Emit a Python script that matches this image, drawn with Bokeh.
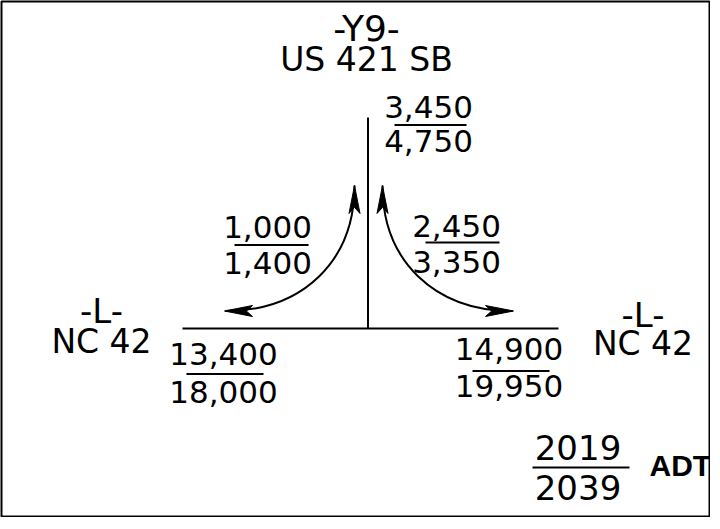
import numpy as np
from bokeh.plotting import figure
from bokeh.models import Range1d, ColumnDataSource
from bokeh.core.properties import value
from bokeh.embed import file_html
from bokeh.resources import INLINE

# ---------------- data ----------------
years = ["2019", "2039"]
unit_label = "ADT"
road_ids = ["-Y9-", "-L-", "-L-"]
road_routes = ["US 421 SB", "NC 42", "NC 42"]
movements = ["Y9 approach", "L west", "L east", "SB left turn", "SB right turn"]
adt_2019 = [3450, 13400, 14900, 1000, 2450]
adt_2039 = [4750, 18000, 19950, 1400, 3350]

# ---------------- layout (page pixel coordinates) ----------------
W, H = 710, 517
FONT = "DejaVu Sans"
# movement label centres (x), vertical centres of upper/lower numbers, fraction-line spans
mv_x = [436, 231, 516.5, 275, 464]
mv_mid_top = [114, 361.5, 356.5, 234.8, 233.2]
mv_mid_bot = [148.7, 399, 393.2, 270.7, 269]
mv_line_y = [132.5, 381.5, 378.5, 252.5, 250]
mv_line_x0 = [402, 194, 480, 242, 433]
mv_line_x1 = [474, 271, 557, 316, 507]

road_x = [374, 109, 650.5]
road_id_mid = [36, 318, 322]
road_route_mid = [66.5, 349, 351]
road_id_size = ["36px", "34px", "34px"]

p = figure(width=W, height=H, output_backend="svg", toolbar_location=None,
           x_range=Range1d(9, 9 + W - 2), y_range=Range1d(8 + H - 1, 9),
           x_axis_type=None, y_axis_type=None, min_border=1,
           background_fill_color="white", border_fill_color="white",
           outline_line_color="black", outline_line_width=2)
p.grid.visible = False

# roads
p.segment(x0=[190, 375.5], y0=[336, 125], x1=[566, 375.5], y1=[336, 336],
          line_color="black", line_width=2)

# turning movement curves (quarter ellipses as cubic beziers)
k = 0.6
def curve(tip_h, tip_v):
    (xh, yh), (xv, yv) = tip_h, tip_v
    return dict(x0=xh, y0=yh, x1=xv, y1=yv,
                cx0=xh + k * (xv - xh), cy0=yh,
                cx1=xv, cy1=yv + k * (yh - yv))

c1 = curve((233, 318.5), (362, 193))
c2 = curve((520, 318.5), (390, 193))
src_c = ColumnDataSource({key: [c1[key], c2[key]] for key in c1})
p.bezier(x0="x0", y0="y0", x1="x1", y1="y1", cx0="cx0", cy0="cy0",
         cx1="cx1", cy1="cy1", source=src_c, line_color="black", line_width=2)

# arrow heads (stealth style)
def head(tx, ty, dx, dy, L=28, hw=5.5, notch=0.78):
    nx, ny = -dy, dx
    bx, by = tx - dx * L, ty - dy * L
    mx, my = tx - dx * L * notch, ty - dy * L * notch
    return ([tx, bx + nx * hw, mx, bx - nx * hw],
            [ty, by + ny * hw, my, by - ny * hw])

heads = [head(232, 318.5, -1, 0), head(362, 193, 0, -1),
         head(390, 193, 0, -1), head(521, 318.5, 1, 0)]
p.patches(xs=[h[0] for h in heads], ys=[h[1] for h in heads],
          fill_color="black", line_color="black", line_width=1)

# volumes
fmt = lambda v: f"{v:,}"
src_top = ColumnDataSource(dict(x=mv_x, y=mv_mid_top, t=[fmt(v) for v in adt_2019]))
src_bot = ColumnDataSource(dict(x=mv_x, y=mv_mid_bot, t=[fmt(v) for v in adt_2039]))
for s in (src_top, src_bot):
    p.text(x="x", y="y", text="t", source=s, text_font=value(FONT),
           text_font_size=value("31px"), text_align="center",
           text_baseline="middle", text_color="black")
p.segment(x0=mv_line_x0, y0=mv_line_y, x1=mv_line_x1, y1=mv_line_y,
          line_color="black", line_width=2)

# road names
src_id = ColumnDataSource(dict(x=road_x, y=road_id_mid, t=road_ids, fs=road_id_size))
p.text(x="x", y="y", text="t", source=src_id, text_font=value(FONT),
       text_font_size="fs", text_align="center",
       text_baseline="middle", text_color="black")
src_rt = ColumnDataSource(dict(x=road_x, y=road_route_mid, t=road_routes))
p.text(x="x", y="y", text="t", source=src_rt, text_font=value(FONT),
       text_font_size=value("33px"), text_align="center",
       text_baseline="middle", text_color="black")

# legend
p.text(x=[585.5, 585.5], y=[454.8, 494.8], text=years, text_font=value(FONT),
       text_font_size=value("34px"), text_align="center",
       text_baseline="middle", text_color="black")
p.segment(x0=[540], y0=[475], x1=[637], y1=[475], line_color="black", line_width=2)
p.text(x=[657], y=[473], text=[unit_label], text_font=value("Liberation Sans"),
       text_font_size=value("30px"), text_font_style="bold", text_align="left",
       text_baseline="middle", text_color="black")

open("out.html", "w").write(file_html(p, INLINE))
